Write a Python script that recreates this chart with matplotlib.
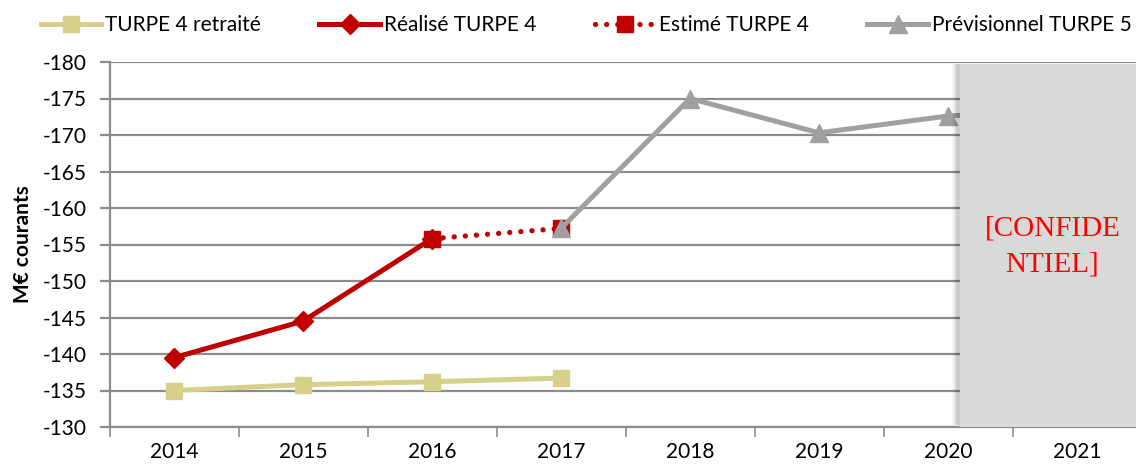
import numpy as np
import matplotlib
matplotlib.use('Agg')
import matplotlib.pyplot as plt
import matplotlib.patches as mpatches

plt.rcParams['font.family'] = ['Lato', 'DejaVu Sans']
plt.rcParams['axes.unicode_minus'] = False

# data (M€ courants)
years = ['2014', '2015', '2016', '2017', '2018', '2019', '2020', '2021']
retraite = [-135.0, -135.8, -136.2, -136.7]
realise = [-139.5, -144.5, -155.8]
estime = [-155.8, -157.2]
previsionnel = [-157.2, -175.0, -170.3, -172.6, -173.5]

x = np.arange(len(years))
grid_col = '#8C8C8C'

fig = plt.figure(figsize=(11.36, 4.68), dpi=100)
ax = fig.add_axes([109.5 / 1136, 41 / 468, 1032 / 1136, 365 / 468])

ax.plot(x[0:4], retraite, color='#D6D08A', lw=3.6, marker='s', ms=12,
        label='TURPE 4 retraité', zorder=3)
ax.plot(x[0:3], realise, color='#C00000', lw=3.6, marker='D', ms=10,
        label='Réalisé TURPE 4', zorder=4)
ax.plot(x[2:4], estime, color='#C00000', lw=3.8, ls=(0, (0.01, 2.1)), marker='s', ms=12,
        dash_capstyle='round', label='Estimé TURPE 4', zorder=4)
ax.plot(x[3:8], previsionnel, color='#A0A0A0', lw=3.6, marker='^', ms=13,
        label='Prévisionnel TURPE 5', zorder=5)

ax.set_xlim(-0.5, 7.5)
ax.set_ylim(-130, -180)
ax.set_yticks(np.arange(-180, -129, 5))
ax.yaxis.grid(True, color=grid_col, lw=1.6)
ax.set_axisbelow(True)

# category axis: ticks on boundaries, labels at centers
ax.set_xticks(np.arange(-0.5, 7.6, 1))
ax.set_xticklabels([])
ax.set_xticks(x, minor=True)
ax.set_xticklabels(years, minor=True)
ax.tick_params(axis='x', which='major', length=7, width=1.2, color=grid_col, direction='out')
ax.tick_params(axis='x', which='minor', length=0, pad=11, labelsize=15)
ax.tick_params(axis='y', length=7, width=1.6, color=grid_col, labelsize=15, pad=9.5)

for s in ['top', 'right']:
    ax.spines[s].set_visible(False)
for s in ['left', 'bottom']:
    ax.spines[s].set_color(grid_col)
    ax.spines[s].set_linewidth(1.6)

ax.set_ylabel('M€ courants', fontsize=15, fontweight='bold', labelpad=7)

# confidential box with a soft shadow on the left
for i, a in enumerate([0.04, 0.07, 0.1]):
    ax.add_patch(mpatches.Rectangle((6.03 + i * 0.015, -130.3), 2.0, -49.4,
                                    facecolor='black', alpha=a, lw=0,
                                    zorder=8, clip_on=False))
ax.add_patch(mpatches.Rectangle((6.09, -130.0), 2.0, -49.7, facecolor='#D9D9D9',
                                lw=0, zorder=9, clip_on=False))
ax.text(6.81, -154.7, '[CONFIDE\nNTIEL]', color='red', fontsize=21,
        family=['Liberation Serif'], ha='center', va='center',
        linespacing=1.5, zorder=10)

fig.legend(loc='center', ncol=4, frameon=False, fontsize=15,
           bbox_to_anchor=(0.516, 1 - 25 / 468), handlelength=2.9, columnspacing=2.8,
           handletextpad=0.2, borderaxespad=0)

fig.savefig('out.png', dpi=100, facecolor='white')
